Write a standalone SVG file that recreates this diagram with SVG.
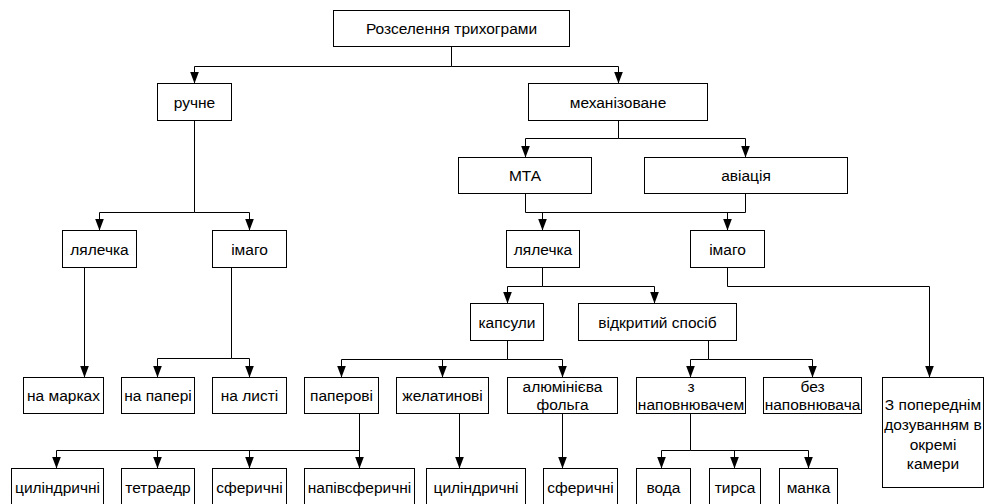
<svg xmlns="http://www.w3.org/2000/svg" width="984" height="504" viewBox="0 0 984 504">
<style>
.box{fill:#fff;stroke:#000;stroke-width:1}
.t{font-family:"Liberation Sans",Arial,sans-serif;font-size:15.5px;fill:#000;text-anchor:middle}
.c{fill:none;stroke:#000;stroke-width:1}
.a{marker-end:url(#arr)}
</style>
<defs>
<marker id="arr" markerUnits="userSpaceOnUse" markerWidth="12" markerHeight="9" refX="12" refY="4.5" orient="auto">
<path d="M0,0 L12,4.5 L0,9 z" fill="#000"/>
</marker>
</defs>
<rect width="984" height="504" fill="#fff"/>
<g transform="translate(0.5,0.5)">
<g id="connectors">
<path class="c a" d="M451,46 V66 H194 V83"/>
<path class="c a" d="M451,66 H618 V83"/>
<path class="c a" d="M194,120 V212 H99 V230"/>
<path class="c a" d="M194,212 H249 V230"/>
<path class="c a" d="M84,267 V377"/>
<path class="c a" d="M231,267 V358 H157 V377"/>
<path class="c a" d="M231,358 H249 V377"/>
<path class="c a" d="M618,120 V138 H525 V157"/>
<path class="c a" d="M618,138 H745 V157"/>
<path class="c" d="M525,193 V212 H745 V193"/>
<path class="c a" d="M542,212 V230"/>
<path class="c a" d="M727,212 V230"/>
<path class="c a" d="M542,267 V286 H507 V303"/>
<path class="c a" d="M542,286 H654 V303"/>
<path class="c a" d="M727,267 V286 H929 V377"/>
<path class="c a" d="M507,340 V359 H341 V377"/>
<path class="c a" d="M507,359 H562 V377"/>
<path class="c a" d="M442,359 V377"/>
<path class="c a" d="M708,340 V359 H690 V377"/>
<path class="c a" d="M708,359 H812 V377"/>
<path class="c a" d="M359,413 V468"/>
<path class="c a" d="M359,450 H56 V468"/>
<path class="c a" d="M157,450 V468"/>
<path class="c a" d="M249,450 V468"/>
<path class="c a" d="M459,413 V468"/>
<path class="c a" d="M562,413 V468"/>
<path class="c a" d="M690,413 V450 H661 V468"/>
<path class="c a" d="M690,450 H808 V468"/>
<path class="c a" d="M734,450 V468"/>
</g>
<g id="root"><rect class="box" x="333" y="10" width="236" height="36"/><text class="t" x="451" y="33.5">Розселення трихограми</text></g>
<g id="ruchne"><rect class="box" x="157" y="83" width="74" height="37"/><text class="t" x="194" y="107">ручне</text></g>
<g id="mekhanizovane"><rect class="box" x="528" y="83" width="179" height="37"/><text class="t" x="617.5" y="107">механізоване</text></g>
<g id="lyalechka1"><rect class="box" x="62" y="230" width="74" height="37"/><text class="t" x="99" y="254">лялечка</text></g>
<g id="imago1"><rect class="box" x="212" y="230" width="74" height="37"/><text class="t" x="249" y="254">імаго</text></g>
<g id="mta"><rect class="box" x="458" y="157" width="133" height="36"/><text class="t" x="524.5" y="180.5">МТА</text></g>
<g id="aviatsiya"><rect class="box" x="644" y="157" width="203" height="36"/><text class="t" x="745.5" y="180.5">авіація</text></g>
<g id="lyalechka2"><rect class="box" x="506" y="230" width="73" height="37"/><text class="t" x="542.5" y="254">лялечка</text></g>
<g id="imago2"><rect class="box" x="690" y="230" width="74" height="37"/><text class="t" x="727" y="254">імаго</text></g>
<g id="kapsuly"><rect class="box" x="470" y="303" width="73" height="37"/><text class="t" x="506.5" y="327">капсули</text></g>
<g id="vidkrytyi"><rect class="box" x="578" y="303" width="158" height="37"/><text class="t" x="657" y="327">відкритий спосіб</text></g>
<g id="na-markakh"><rect class="box" x="23" y="377" width="80" height="36"/><text class="t" x="63" y="400.5">на марках</text></g>
<g id="na-paperi"><rect class="box" x="121" y="377" width="73" height="36"/><text class="t" x="157.5" y="400.5">на папері</text></g>
<g id="na-lysti"><rect class="box" x="212" y="377" width="74" height="36"/><text class="t" x="249" y="400.5">на листі</text></g>
<g id="paperovi"><rect class="box" x="304" y="377" width="74" height="36"/><text class="t" x="341" y="400.5">паперові</text></g>
<g id="zhelatynovi"><rect class="box" x="396" y="377" width="92" height="36"/><text class="t" x="442" y="400.5">желатинові</text></g>
<g id="alyuminieva"><rect class="box" x="507" y="377" width="110" height="36"/><text class="t" x="562" y="391.5">алюмінієва</text><text class="t" x="562" y="409.5">фольга</text></g>
<g id="z-napovnyuvachem"><rect class="box" x="636" y="377" width="109" height="36"/><text class="t" x="690.5" y="391.5">з</text><text class="t" x="690.5" y="409.5">наповнювачем</text></g>
<g id="bez-napovnyuvacha"><rect class="box" x="763" y="377" width="98" height="36"/><text class="t" x="812" y="391.5">без</text><text class="t" x="812" y="409.5">наповнювача</text></g>
<g id="kamery"><rect class="box" x="882" y="377" width="101" height="110"/><text class="t" x="932.5" y="409.5">З попереднім</text><text class="t" x="932.5" y="429.5">дозуванням в</text><text class="t" x="932.5" y="449">окремі</text><text class="t" x="932.5" y="468.5">камери</text></g>
<g id="tsylindrychni1"><rect class="box" x="11" y="468" width="92" height="42"/><text class="t" x="57" y="492">циліндричні</text></g>
<g id="tetraedr"><rect class="box" x="121" y="468" width="73" height="42"/><text class="t" x="157.5" y="492">тетраедр</text></g>
<g id="sferychni1"><rect class="box" x="212" y="468" width="74" height="42"/><text class="t" x="249" y="492">сферичні</text></g>
<g id="napivsferychni"><rect class="box" x="304" y="468" width="110" height="42"/><text class="t" x="359" y="492">напівсферичні</text></g>
<g id="tsylindrychni2"><rect class="box" x="426" y="468" width="99" height="42"/><text class="t" x="475.5" y="492">циліндричні</text></g>
<g id="sferychni2"><rect class="box" x="543" y="468" width="74" height="42"/><text class="t" x="580" y="492">сферичні</text></g>
<g id="voda"><rect class="box" x="636" y="468" width="54" height="42"/><text class="t" x="663" y="492">вода</text></g>
<g id="tyrsa"><rect class="box" x="709" y="468" width="51" height="42"/><text class="t" x="734.5" y="492">тирса</text></g>
<g id="manka"><rect class="box" x="779" y="468" width="58" height="42"/><text class="t" x="808" y="492">манка</text></g>
</g>
</svg>
